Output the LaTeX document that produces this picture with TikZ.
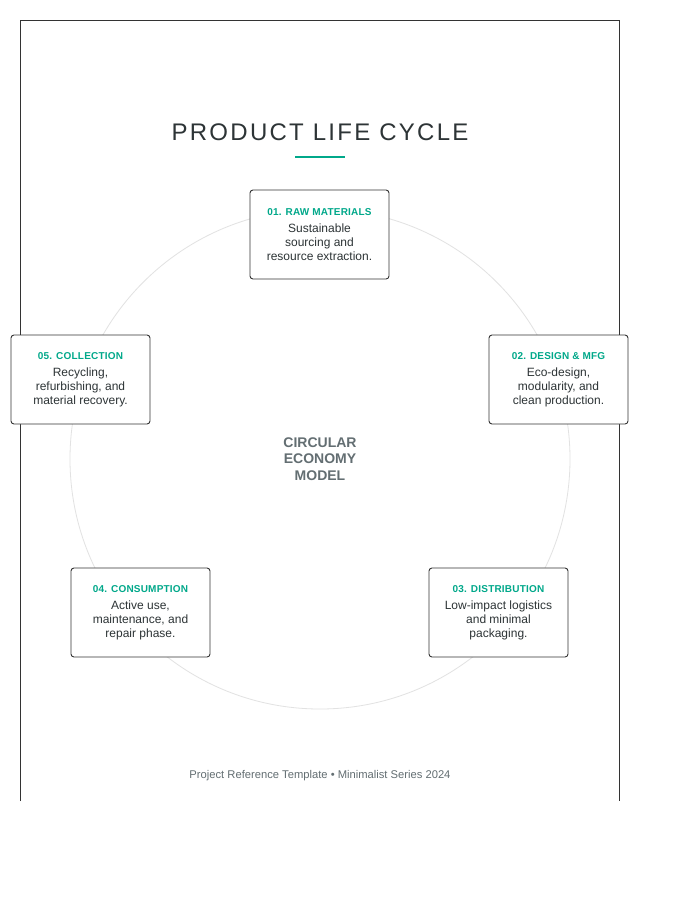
\documentclass[tikz,border=0pt]{standalone}
\usepackage{fontspec}
\setmainfont{Liberation Sans}
\newfontfamily\titlefont[LetterSpace=9.5]{Liberation Sans}
\newfontfamily\labfont[LetterSpace=2]{Liberation Sans}
\definecolor{teal}{HTML}{00A88A}
\definecolor{ink}{HTML}{2D3436}
\definecolor{greytext}{HTML}{636E72}
\definecolor{framec}{HTML}{333333}
\definecolor{ringc}{HTML}{E2E2E2}
\tikzset{
  stagebox/.style={draw=framec, line width=0.9pt, rounded corners=3pt, fill=white,
    minimum width=139pt, minimum height=89pt, inner sep=0pt, align=center,
    text=ink, font=\fontsize{12}{14}\selectfont},
  framel/.style={draw=framec, line width=0.9pt},
}
\newcommand{\stagelabel}[1]{{\fontsize{10}{12}\selectfont\labfont\bfseries\color{teal}#1}\\[3pt]}
\begin{document}
\begin{tikzpicture}[x=1pt,y=-1pt]
\useasboundingbox (0,0) rectangle (700,900);
\fill[white] (0,0) rectangle (700,900);
% frame (open at bottom)
\coordinate (fbl) at (20.5,801);
\coordinate (ftl) at (20.5,20.5);
\coordinate (ftr) at (619.5,20.5);
\coordinate (fbr) at (619.5,801);
\draw[framel] (fbl) -- (ftl) -- (ftr) -- (fbr);
% ring
\coordinate (c) at (320,459);
\draw[ringc, line width=0.8pt] (c) circle[radius=250];
% title
\node[font=\fontsize{24}{28}\selectfont\titlefont, text=ink] (title) at (320,132) {PRODUCT LIFE CYCLE};
\coordinate (ulA) at (295,157);
\coordinate (ulB) at (345,157);
\draw[teal, line width=2pt] (ulA) -- (ulB);
% stages
\node[stagebox] (s1) at (319.5,234.5) {\stagelabel{01. RAW MATERIALS}Sustainable\\sourcing and\\resource extraction.};
\node[stagebox] (s2) at (558.5,379.5) {\stagelabel{02. DESIGN \& MFG}Eco-design,\\modularity, and\\clean production.};
\node[stagebox] (s3) at (498.5,612.5) {\stagelabel{03. DISTRIBUTION}Low-impact logistics\\and minimal\\packaging.};
\node[stagebox] (s4) at (140.5,612.5) {\stagelabel{04. CONSUMPTION}Active use,\\maintenance, and\\repair phase.};
\node[stagebox] (s5) at (80.5,379.5) {\stagelabel{05. COLLECTION}Recycling,\\refurbishing, and\\material recovery.};
% centre
\node[font=\fontsize{14}{16.5}\selectfont\bfseries, text=greytext, align=center] (centre) at (320,459) {CIRCULAR\\ECONOMY\\MODEL};
% footer
\node[font=\fontsize{11.2}{13}\selectfont, text=greytext] (footer) at (320,776) {Project Reference Template • Minimalist Series 2024};
\end{tikzpicture}
\end{document}
